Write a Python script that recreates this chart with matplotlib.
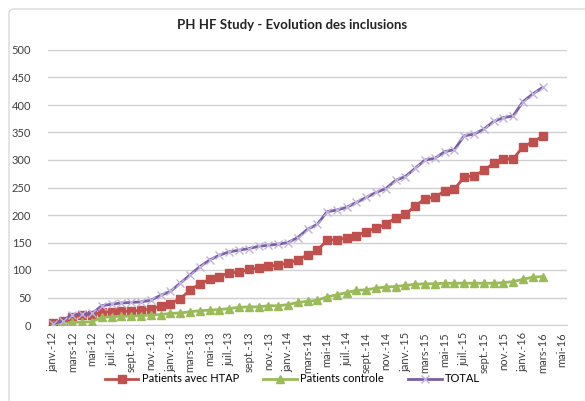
import matplotlib
matplotlib.use('Agg')
import matplotlib.pyplot as plt
from matplotlib.patches import FancyBboxPatch

months = ['janv.', 'févr.', 'mars', 'avr.', 'mai', 'juin',
          'juil.', 'août', 'sept.', 'oct.', 'nov.', 'déc.']
years = ['12', '13', '14', '15', '16']
categories = [m + '-' + y for y in years for m in months][:53]  # janv.-12 .. mai-16

htap = [3, 8, 15, 18, 19, 23, 24, 25, 25, 27, 29, 34,
        39, 48, 63, 75, 83, 88, 95, 96, 101, 104, 107, 109,
        112, 119, 127, 136, 154, 155, 158, 162, 170, 176, 183, 195,
        201, 217, 229, 233, 243, 247, 269, 271, 281, 294, 302, 302,
        324, 333, 343]
controle = [0, 2, 5, 5, 6, 14, 15, 16, 16, 17, 18, 19,
            21, 22, 24, 26, 27, 28, 30, 32, 33, 33, 35, 35,
            37, 41, 43, 45, 51, 55, 59, 63, 64, 67, 69, 70,
            72, 74, 75, 75, 76, 76, 76, 76, 76, 76, 77, 79,
            83, 87, 88]
total = [2, 8, 19, 20, 21, 35, 38, 40, 41, 42, 45, 54,
         61, 76, 91, 106, 118, 127, 133, 136, 139, 143, 145, 147,
         150, 159, 174, 183, 206, 209, 214, 223, 232, 241, 248, 263,
         270, 285, 300, 303, 315, 319, 344, 347, 356, 370, 377, 380,
         406, 420, 432]

plt.rcParams['font.family'] = ['Lato', 'DejaVu Sans']

fig = plt.figure(figsize=(5.85, 4.01), dpi=100)
ax = fig.add_axes([48 / 585, 1 - 325 / 401, (567 - 48) / 585, 275 / 401])

# chart frame
fig.patches.append(FancyBboxPatch((9 / 585, -0.02), 1.0, 1 - 9 / 401 + 0.02,
                                  boxstyle='round,pad=0,rounding_size=0.01',
                                  transform=fig.transFigure, fill=False,
                                  edgecolor='#d9d9d9', linewidth=1.0))

x = list(range(len(htap)))
ax.plot(x, htap, color='#c0504d', marker='s', markersize=6, linewidth=2,
        label='Patients avec HTAP', zorder=3)
ax.plot(x, controle, color='#9bbb59', marker='^', markersize=6, linewidth=2,
        label='Patients controle', zorder=3)
ax.plot(x, total, color='#7d5fa8', marker='x', markersize=6, linewidth=2,
        markeredgecolor='#c0b4dc', markeredgewidth=1, label='TOTAL', zorder=4)

ax.set_xlim(-0.5, len(categories) - 0.5)
ax.set_ylim(0, 500)
ax.set_yticks(range(0, 501, 50))
ax.set_xticks(range(0, len(categories), 2))
ax.set_xticklabels(categories[::2], rotation=90)
ax.tick_params(axis='both', length=0, labelsize=8, colors='#404040')
ax.tick_params(axis='y', pad=12)
ax.tick_params(axis='x', pad=5)

ax.grid(axis='y', color='#d0d0d0', linewidth=1)
ax.set_axisbelow(True)
for s in ['top', 'right', 'left']:
    ax.spines[s].set_visible(False)
ax.spines['bottom'].set_color('#d0d0d0')

fig.text(0.5, 1 - 25 / 401, 'PH HF Study - Evolution des inclusions',
         ha='center', va='center', fontsize=9.5, fontweight='bold', color='#222222')

fig.legend(loc='center', bbox_to_anchor=(0.5, 1 - 379 / 401), ncol=3,
           frameon=False, fontsize=8, handlelength=3, columnspacing=2.2,
           handletextpad=0.3)

fig.savefig('out.png', dpi=100)
